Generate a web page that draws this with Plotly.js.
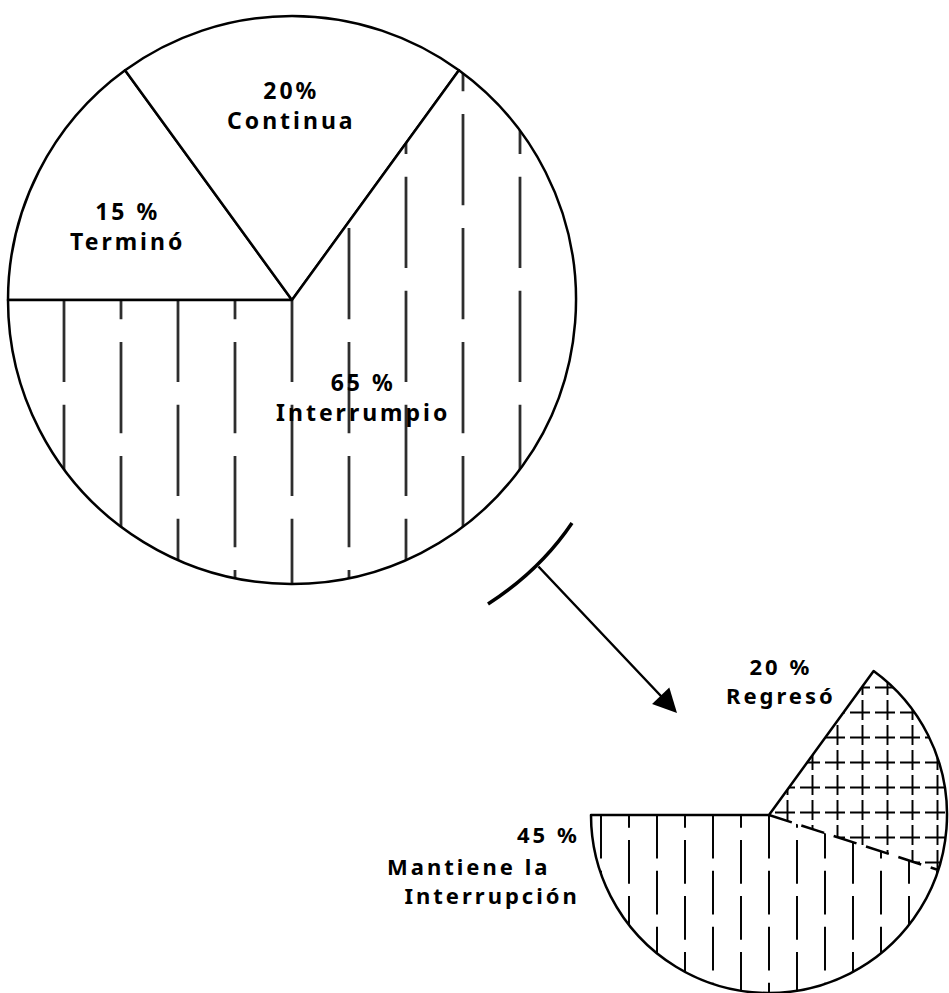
<!DOCTYPE html>
<html>
<head>
<meta charset="utf-8">
<script src="https://cdn.plot.ly/plotly-3.0.1.min.js"></script>
<style>
  html, body { margin: 0; padding: 0; background: #fff; }
  #chart { width: 949px; height: 993px; }
  .annotation-text { letter-spacing: 3px; }
</style>
</head>
<body>
<div id="chart"></div>
<script>
// ---- data ----
const mainLabels = ['Terminó', 'Continua', 'Interrumpio'];
const mainValues = [15, 20, 65];
const subLabels = ['Regresó', 'Mantiene la Interrupción'];
const subValues = [20, 45];
const mainPatterns = ['', '', '|'];
const subPatterns = ['+', '|'];

// ---- layout helpers ----
const W = 949, H = 993;
const px = x => x / W;
const py = y => 1 - y / H;

const mainBox = {l: 8, r: 576, t: 16, b: 584};
const subBox = {l: 591, r: 947, t: 637, b: 993};
const dom = b => ({x: [px(b.l), px(b.r)], y: [py(b.b), py(b.t)]});

const interruptedTotal = mainValues[2];
const restValue = mainValues.reduce((a, b) => a + b, 0) - interruptedTotal;

const ROT = -90;
const LINE = 2.5;
const MAIN_HATCH = 57, SUB_HATCH = 28, CROSS_HATCH = 25;

const traces = [
  {
    type: 'pie', sort: false, direction: 'clockwise', rotation: ROT,
    labels: mainLabels, values: mainValues,
    textinfo: 'none', hoverinfo: 'skip', showlegend: false,
    domain: dom(mainBox),
    marker: {
      colors: ['white', 'white', 'white'],
      line: {color: 'black', width: LINE},
      pattern: {shape: mainPatterns, size: MAIN_HATCH, solidity: 0.04, fgcolor: 'black', bgcolor: 'white'}
    }
  },
  {
    type: 'pie', sort: false, direction: 'clockwise', rotation: ROT,
    labels: ['Terminó y Continua'].concat(subLabels),
    values: [restValue].concat(subValues),
    textinfo: 'none', hoverinfo: 'skip', showlegend: false,
    domain: dom(subBox),
    marker: {
      colors: ['rgba(0,0,0,0)', 'white', 'white'],
      line: {color: 'black', width: 0},
      pattern: {shape: [''].concat(subPatterns), size: [SUB_HATCH, CROSS_HATCH, SUB_HATCH],
                solidity: [0.07, 0.15, 0.07], fgcolor: 'black', bgcolor: 'white'}
    }
  },
  {
    type: 'pie', sort: false, direction: 'clockwise', rotation: ROT,
    labels: ['Terminó y Continua', mainLabels[2]],
    values: [restValue, interruptedTotal],
    textinfo: 'none', hoverinfo: 'skip', showlegend: false,
    domain: dom(subBox),
    marker: {
      colors: ['rgba(0,0,0,0)', 'rgba(0,0,0,0)'],
      line: {color: 'black', width: [0, LINE]}
    }
  }
];

// dashed divider inside the sub pie, from data
const mcx = (mainBox.l + mainBox.r) / 2;
const scx = (subBox.l + subBox.r) / 2, scy = (subBox.t + subBox.b) / 2;
const sr = Math.min(subBox.r - subBox.l, subBox.b - subBox.t) / 2;
const total = restValue + subValues[0] + subValues[1];
const divAng = (ROT + (restValue + subValues[0]) / total * 360) * Math.PI / 180;
const divX = scx + sr * Math.sin(divAng), divY = scy - sr * Math.cos(divAng);

const fontBig = {family: 'Noto Sans, DejaVu Sans, sans-serif', size: 23, color: 'black', weight: 700};
const fontSmall = {family: 'Noto Sans, DejaVu Sans, sans-serif', size: 22, color: 'black', weight: 700};
const ann = (x, y, text, font, xanchor, align) => ({
  xref: 'paper', yref: 'paper', x: px(x), y: py(y), text: text,
  showarrow: false, font: font, xanchor: xanchor || 'center', yanchor: 'middle', align: align || 'center'
});

const mantieneWords = subLabels[1].split(' ');

const annotations = [
  ann(127, 226, mainValues[0] + ' %<br>' + mainLabels[0], fontBig),
  ann(291, 105, mainValues[1] + '%<br>' + mainLabels[1], fontBig),
  ann(363, 397, mainValues[2] + ' %<br>' + mainLabels[2], fontBig),
  ann(781, 680, subValues[0] + ' %<br>' + subLabels[0], fontSmall),
  ann(548, 834, subValues[1] + ' %', fontSmall),
  ann(385, 880, mantieneWords.slice(0, 2).join(' ') + '<br>\u00a0\u00a0' + mantieneWords.slice(2).join(' '),
      fontSmall, 'left', 'left'),
  {
    xref: 'paper', yref: 'paper', x: px(677), y: py(713),
    axref: 'pixel', ayref: 'pixel', ax: 537 - 677, ay: 565 - 713,
    text: '', showarrow: true, arrowhead: 2, arrowsize: 1.9, arrowwidth: 2.5,
    arrowcolor: 'black', standoff: 0
  }
];

// arc concentric with the main pie
const p1 = [488, 604], p2 = [572, 523], mid = [535, 567];
const ctrl = [2 * mid[0] - (p1[0] + p2[0]) / 2, 2 * mid[1] - (p1[1] + p2[1]) / 2];
const arcPath = 'M' + px(p1[0]) + ',' + py(p1[1]) + ' Q' + px(ctrl[0]) + ',' + py(ctrl[1]) + ' ' + px(p2[0]) + ',' + py(p2[1]);

const shapes = [
  {type: 'path', xref: 'paper', yref: 'paper', path: arcPath, line: {color: 'black', width: 3.5}},
  {type: 'line', xref: 'paper', yref: 'paper', x0: px(scx), y0: py(scy), x1: px(divX), y1: py(divY),
   line: {color: 'black', width: 2.5, dash: '24px,10px'}}
];

const layout = {
  width: W, height: H,
  margin: {l: 0, r: 0, t: 0, b: 0, pad: 0},
  paper_bgcolor: 'white', plot_bgcolor: 'white',
  showlegend: false,
  annotations: annotations,
  shapes: shapes
};

// make the hatch lines dashed (like the hand-drawn original)
function dashHatch() {
  document.querySelectorAll('pattern').forEach(pat => {
    const w = parseFloat(pat.getAttribute('width'));
    const path = pat.querySelector('path');
    if (!path || !isFinite(w)) return;
    const rect = pat.querySelector('rect');
    const isMain = Math.abs(w - MAIN_HATCH) < 0.5;
    const isSub = Math.abs(w - SUB_HATCH) < 0.5;
    if (isMain || isSub) {
      const cx = isMain ? mcx : scx;
      const T = 2 * w;
      const dash = isMain ? [0.8 * T, 0.2 * T] : [0.78 * T, 0.22 * T];
      pat.setAttribute('width', T);
      pat.setAttribute('height', T);
      if (rect) { rect.setAttribute('width', T); rect.setAttribute('height', T); }
      path.setAttribute('d', 'M' + (w / 2) + ',0L' + (w / 2) + ',' + T);
      path.setAttribute('stroke-dasharray', dash.join(','));
      const p2c = path.cloneNode(true);
      p2c.setAttribute('d', 'M' + (1.5 * w) + ',0L' + (1.5 * w) + ',' + T);
      p2c.setAttribute('stroke-dashoffset', 0.45 * T);
      pat.appendChild(p2c);
      const off = (cx % w) - w / 2;
      pat.setAttribute('patternTransform', 'translate(' + off + ',0)');
    } else {
      path.setAttribute('stroke-dasharray', '20,5');
    }
  });
}

Plotly.newPlot('chart', traces, layout, {staticPlot: true, displayModeBar: false}).then(dashHatch);
</script>
</body>
</html>
